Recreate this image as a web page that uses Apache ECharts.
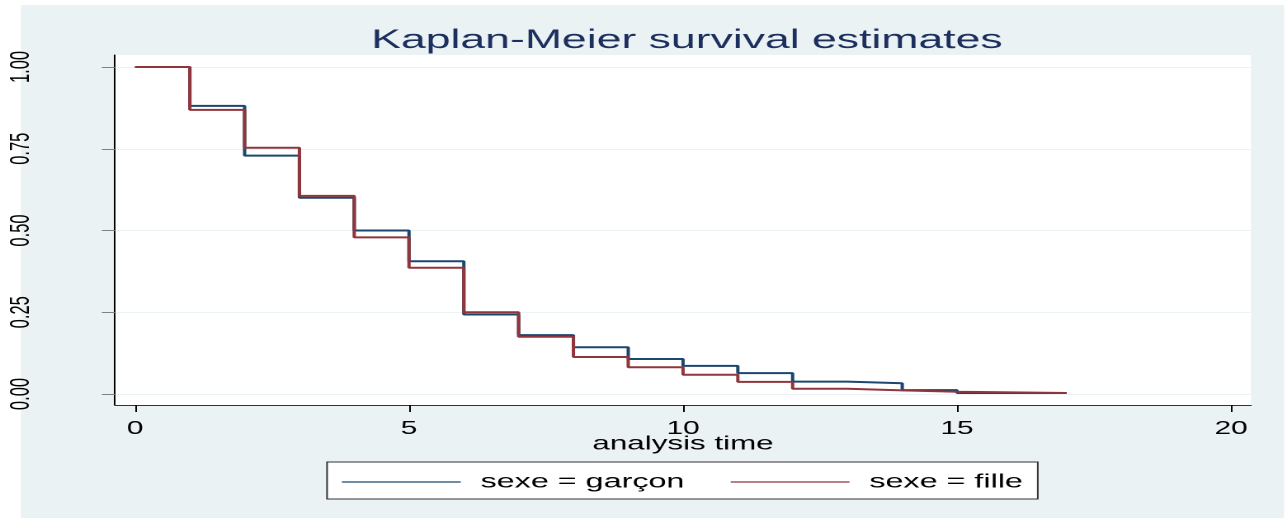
<!DOCTYPE html>
<html>
<head>
<meta charset="utf-8">
<script src="https://cdn.jsdelivr.net/npm/echarts@6/dist/echarts.min.js"></script>
<style>
  html, body { margin: 0; padding: 0; background: #fff; overflow: hidden; }
  /* the Stata graph is stretched sideways, so draw narrow and stretch */
  #wrap { position: absolute; left: 0; top: 0; width: 780px; height: 518px; transform: scaleX(1.65); transform-origin: 0 0; }
  #chart { width: 780px; height: 518px; }
</style>
</head>
<body>
<div id="wrap"><div id="chart"></div></div>
<script>
const times = [0, 1, 2, 3, 4, 5, 6, 7, 8, 9, 10, 11, 12, 13, 14, 15, 17];
const garcon = [1, 0.881, 0.729, 0.6, 0.5, 0.406, 0.243, 0.18, 0.143, 0.107, 0.086, 0.064, 0.038, 0.033, 0.012, 0.003, 0.003];
const fille = [1, 0.869, 0.753, 0.606, 0.479, 0.386, 0.25, 0.175, 0.113, 0.082, 0.059, 0.037, 0.016, 0.011, 0.007, 0.003, 0.003];
const xTicks = [0, 5, 10, 15, 20];
const yTicks = [0, 0.25, 0.5, 0.75, 1];
const seriesNames = ["sexe = garçon", "sexe = fille"];

const font = "'Liberation Sans', Arial, sans-serif";
const toPairs = (vals) => times.map((t, i) => [t, vals[i]]);

const chart = echarts.init(document.getElementById("chart"), null, { devicePixelRatio: 2 });

chart.setOption({
  backgroundColor: "#fff",
  animation: false,
  graphic: [
    {
      type: "rect",
      z: -10,
      shape: { x: 12.7, y: 5, width: 765.5, height: 513 },
      style: { fill: "#eaf2f3" },
    },
  ],
  title: {
    text: "Kaplan-Meier survival estimates",
    left: 225,
    top: 27,
    padding: 0,
    textStyle: { color: "#1c2f5e", fontFamily: font, fontSize: 27, fontWeight: "normal" },
  },
  grid: {
    left: 69.7,
    right: 21.8,
    top: 55,
    bottom: 113,
    show: true,
    backgroundColor: "#fff",
    borderWidth: 0,
  },
  legend: {
    data: seriesNames,
    left: 198.2,
    top: 462,
    padding: [10, 9, 7, 9],
    backgroundColor: "#fff",
    borderColor: "#333",
    borderWidth: 1,
    icon: "rect",
    itemWidth: 72,
    itemHeight: 1.2,
    itemGap: 28,
    textStyle: { color: "#000", fontFamily: font, fontSize: 19.6, padding: [0, 0, 0, 7] },
  },
  xAxis: {
    type: "value",
    min: -0.365,
    max: 20.365,
    name: "analysis time",
    nameLocation: "middle",
    nameGap: 30,
    nameMoveOverlap: false,
    nameTextStyle: { color: "#000", fontFamily: font, fontSize: 19 },
    axisLine: { show: true, onZero: false, lineStyle: { color: "#333", width: 1 } },
    axisTick: { show: true, length: 7, customValues: xTicks, lineStyle: { color: "#000" } },
    axisLabel: { customValues: xTicks, margin: 15, color: "#000", fontFamily: font, fontSize: 18 },
    splitLine: { show: false },
  },
  yAxis: {
    type: "value",
    min: -0.0336,
    max: 1.0367,
    axisLine: { show: true, onZero: false, lineStyle: { color: "#000", width: 1 } },
    axisTick: { show: true, length: 8, customValues: yTicks, lineStyle: { color: "#808080" } },
    axisLabel: {
      customValues: yTicks,
      rotate: 90,
      margin: 48,
      color: "#000",
      fontFamily: font,
      fontSize: 16.5,
      formatter: (v) => v.toFixed(2),
    },
    splitLine: { show: true, lineStyle: { color: "#eaf2f3", width: 1 } },
  },
  series: [
    {
      name: seriesNames[0],
      type: "line",
      step: "end",
      showSymbol: false,
      data: toPairs(garcon),
      itemStyle: { color: "#1a476f" },
      lineStyle: { color: "#1a476f", width: 2 },
    },
    {
      name: seriesNames[1],
      type: "line",
      step: "end",
      showSymbol: false,
      data: toPairs(fille),
      itemStyle: { color: "#90353b" },
      lineStyle: { color: "#90353b", width: 2 },
    },
  ],
});
</script>
</body>
</html>
